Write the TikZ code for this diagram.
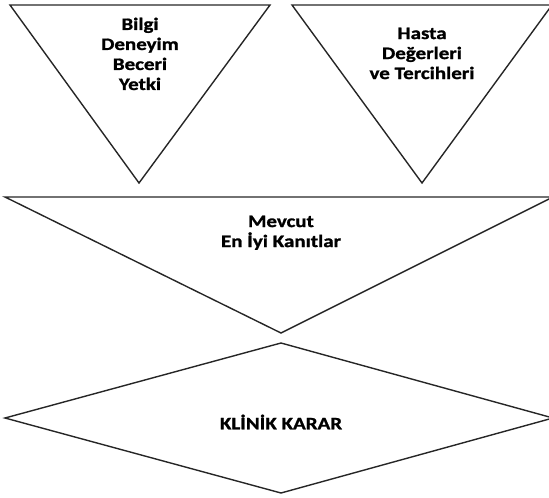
\documentclass[tikz,border=0pt]{standalone}
\usepackage{fontspec}
\setmainfont{Carlito}[FakeStretch=1.2,BoldFeatures={FakeBold=1.2}]
\begin{document}
\begin{tikzpicture}[x=1pt,y=-1pt,line width=1.4pt,color=black!85,
  lbl/.style={align=center,text=black,inner sep=0pt,anchor=north,
    font=\fontsize{17.5}{20}\selectfont\bfseries}]
\useasboundingbox (0,0) rectangle (549,498);
% upper triangles
\draw (10,5) -- (270,5) -- (139,183) -- cycle;
\draw (292,5) -- (552,5) -- (422,183) -- cycle;
% evidence triangle
\draw (5,197) -- (553,197) -- (281,333) -- cycle;
% decision diamond
\draw (281,343) -- (553,418) -- (281,493) -- (5,418) -- cycle;
\node[lbl] (bilgi) at (140,17) {Bilgi\\Deneyim\\Beceri\\Yetki};
\node[lbl] (hasta) at (422,27) {Hasta\\Değerleri\\ve Tercihleri};
\node[lbl] (mevcut) at (281,215) {Mevcut\\En İyi Kanıtlar};
\node[lbl,anchor=center] (karar) at (281,422) {KLİNİK KARAR};
\end{tikzpicture}
\end{document}
